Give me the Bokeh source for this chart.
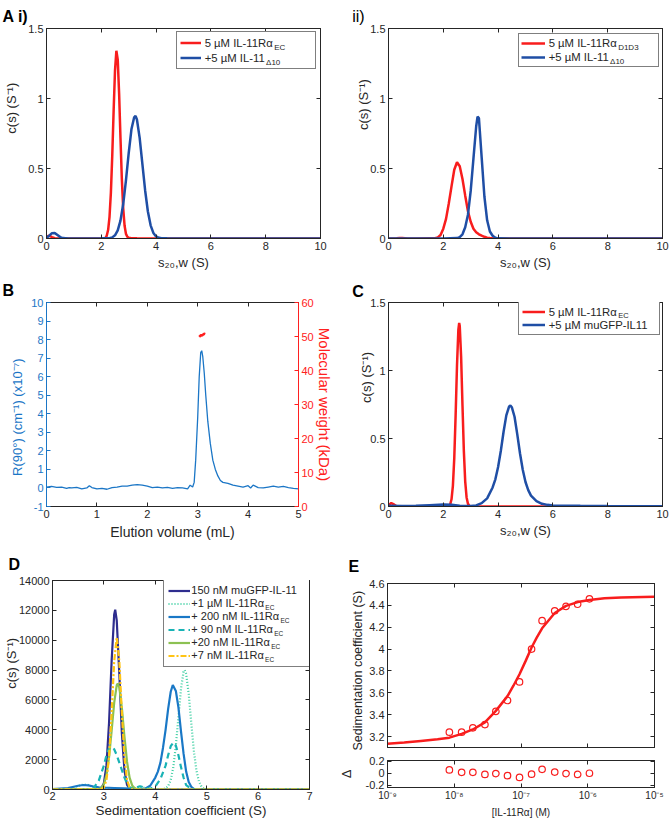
import math
from bokeh.plotting import figure
from bokeh.models import (Range1d, LinearAxis, LogAxis, FixedTicker, Legend,
                          LegendItem, CustomJSTickFormatter)
from bokeh.layouts import row, column
from bokeh.embed import file_html
from bokeh.resources import INLINE

# ---------------- data ----------------
# Panel A i)
ai_red_x = [0, 0.1, 0.2, 0.3, 0.5, 1.0, 1.5, 2.0, 2.15, 2.2, 2.25, 2.3, 2.35, 2.4, 2.45, 2.5, 2.55,
            2.6, 2.65, 2.7, 2.75, 2.8, 2.85, 2.9, 2.95, 3.0, 3.1, 3.3, 4.0, 5.0, 6.0, 8.0, 10.0]
ai_red_y = [0.015, 0.02, 0.01, 0.002, 0, 0, 0, 0, 0.003, 0.021, 0.062, 0.155, 0.328, 0.593, 0.913,
            1.199, 1.341, 1.278, 1.038, 0.718, 0.424, 0.213, 0.091, 0.033, 0.012, 0.005, 0.002,
            0.001, 0, 0, 0, 0, 0]
ai_blue_x = [0, 0.1, 0.2, 0.3, 0.4, 0.5, 0.6, 0.8, 1.5, 2.0, 2.3, 2.4, 2.5, 2.6, 2.7, 2.8, 2.9,
             3.0, 3.1, 3.2, 3.25, 3.3, 3.4, 3.5, 3.6, 3.7, 3.8, 3.9, 4.0, 4.1, 4.2, 4.4, 5.0, 6.0,
             8.0, 10.0]
ai_blue_y = [0.005, 0.02, 0.038, 0.04, 0.025, 0.01, 0.003, 0, 0, 0.001, 0.002, 0.008, 0.023,
             0.058, 0.128, 0.246, 0.415, 0.609, 0.78, 0.866, 0.876, 0.85, 0.719, 0.531, 0.343,
             0.193, 0.094, 0.04, 0.015, 0.005, 0.002, 0.001, 0, 0, 0, 0]

# Panel A ii)
aii_red_x = [0, 0.3, 0.4, 0.5, 0.7, 1.0, 1.5, 1.6, 1.7, 1.8, 1.9, 2.0, 2.1, 2.2, 2.3, 2.4, 2.5,
             2.6, 2.7, 2.8, 2.9, 3.0, 3.1, 3.2, 3.3, 3.4, 3.5, 3.6, 3.7, 3.8, 4.0, 5.0, 10.0]
aii_red_y = [0, 0.002, 0.004, 0.003, 0, 0, 0.001, 0.001, 0.002, 0.008, 0.025, 0.07, 0.14, 0.25,
             0.372, 0.491, 0.545, 0.516, 0.425, 0.306, 0.195, 0.12, 0.07, 0.045, 0.03, 0.02,
             0.012, 0.006, 0.003, 0.001, 0, 0, 0]
aii_blue_x = [0, 1.0, 2.0, 2.5, 2.6, 2.7, 2.8, 2.9, 3.0, 3.1, 3.2, 3.25, 3.3, 3.4, 3.5, 3.6, 3.7,
              3.8, 3.9, 4.0, 5.0, 10.0]
aii_blue_y = [0, 0, 0, 0.003, 0.01, 0.03, 0.08, 0.17, 0.34, 0.57, 0.80, 0.87, 0.86, 0.58, 0.30,
              0.13, 0.05, 0.02, 0.006, 0.001, 0, 0]

# Panel B
b_vol = [0.0, 0.1, 0.2, 0.3, 0.4, 0.45, 0.5, 0.6, 0.7, 0.8, 0.85, 0.9, 1.0, 1.1, 1.2, 1.3, 1.4,
         1.5, 1.6, 1.7, 1.8, 1.9, 2.0, 2.1, 2.2, 2.3, 2.4, 2.5, 2.6, 2.7, 2.8, 2.85, 2.9, 2.93,
         2.96, 3.0, 3.03, 3.06, 3.08, 3.1, 3.13, 3.16, 3.2, 3.25, 3.3, 3.35, 3.4, 3.45, 3.5, 3.6,
         3.7, 3.8, 3.9, 4.0, 4.05, 4.1, 4.2, 4.3, 4.4, 4.5, 4.6, 4.7, 4.8, 4.9, 5.0]
b_rayleigh = [0.05, 0.08, 0.03, 0.05, -0.02, 0.02, 0.0, 0.03, -0.05, 0.0, 0.12, 0.02, -0.05,
              -0.02, -0.07, 0.02, 0.05, 0.1, 0.1, 0.15, 0.18, 0.15, 0.1, 0.02, 0.05, 0.0, 0.03,
              -0.02, 0.02, 0.0, -0.05, 0.15, 0.05, 0.3, 1.5, 3.8, 6.0, 7.3, 7.4, 7.1, 6.2, 5.0,
              3.6, 2.4, 1.5, 1.0, 0.65, 0.4, 0.3, 0.25, 0.15, 0.1, 0.05, 0.12, 0.0, 0.15, 0.02,
              0.0, 0.05, 0.1, 0.05, 0.08, 0.02, -0.02, -0.05]
b_mw_vol = [3.03, 3.05, 3.07, 3.09, 3.11, 3.13, 3.15]
b_mw_kda = [49.9, 50.2, 50.4, 50.3, 50.6, 50.8, 50.7]

# Panel C
c_red_x = [0, 0.1, 0.2, 0.3, 0.5, 1.0, 2.0, 2.2, 2.25, 2.3, 2.35, 2.4, 2.45, 2.5, 2.55, 2.58, 2.6,
           2.65, 2.7, 2.75, 2.8, 2.85, 2.9, 2.95, 3.0, 3.2, 4.0, 6.0, 8.0, 10.0]
c_red_y = [0.01, 0.025, 0.015, 0.002, 0, 0, 0, 0.004, 0.015, 0.053, 0.152, 0.354, 0.672, 1.037,
           1.301, 1.35, 1.328, 1.103, 0.744, 0.409, 0.183, 0.067, 0.02, 0.005, 0.001, 0, 0, 0,
           0, 0]
c_blue_x = [0, 0.5, 1.0, 1.5, 2.0, 2.3, 2.6, 3.0, 3.2, 3.4, 3.6, 3.8, 3.9, 4.0, 4.1, 4.2, 4.3,
            4.4, 4.45, 4.5, 4.6, 4.7, 4.8, 4.9, 5.0, 5.1, 5.2, 5.4, 5.6, 5.8, 6.0, 7.0, 8.0, 10.0]
c_blue_y = [0.005, 0.003, 0.005, 0.01, 0.015, 0.012, 0.006, 0.004, 0.008, 0.025, 0.06, 0.14, 0.2,
            0.29, 0.41, 0.55, 0.67, 0.735, 0.742, 0.73, 0.66, 0.53, 0.39, 0.27, 0.18, 0.12,
            0.08, 0.04, 0.02, 0.012, 0.008, 0.005, 0.003, 0.001]

# Panel D
d_navy_x = [2.0, 2.9, 2.95, 3.0, 3.05, 3.1, 3.15, 3.2, 3.22, 3.25, 3.3, 3.35, 3.4, 3.45, 3.5,
            3.55, 4.0, 7.0]
d_navy_y = [0, 0, 78, 424, 1630, 4447, 8584, 11720, 12050, 11320, 7740, 3740, 1280, 310, 53, 0,
            0, 0]
d_dot_x = [2.0, 2.3, 2.4, 2.5, 2.6, 2.7, 2.8, 2.9, 3.0, 3.5, 3.6, 3.7, 3.8, 3.9, 4.1, 4.2, 4.25,
           4.3, 4.35, 4.4, 4.45, 4.5, 4.55, 4.57, 4.6, 4.65, 4.7, 4.75, 4.8, 4.85, 4.9, 4.95,
           5.0, 7.0]
d_dot_y = [0, 30, 100, 250, 330, 300, 150, 30, 0, 0, 50, 200, 100, 0, 0, 69, 228, 637, 1490,
           2940, 4850, 6750, 7890, 8000, 7750, 6400, 4450, 2600, 1270, 525, 182, 54, 0, 0]
d_blue_x = [2.0, 2.3, 2.5, 2.6, 2.7, 2.8, 2.9, 3.0, 3.2, 3.4, 3.6, 3.7, 3.75, 3.8, 3.9, 4.0,
            4.05, 4.1, 4.15, 4.2, 4.25, 4.3, 4.34, 4.4, 4.45, 4.5, 4.55, 4.6, 4.65, 4.7, 4.75,
            4.8, 7.0]
d_blue_y = [30, 100, 250, 300, 280, 200, 150, 120, 100, 80, 40, 10, 0, 60, 250, 800, 1200, 1800,
            2800, 4000, 5400, 6550, 7000, 6600, 5500, 3900, 2400, 1200, 500, 180, 50, 0, 0]
d_teal_x = [2.0, 2.7, 2.8, 2.9, 3.0, 3.05, 3.1, 3.15, 3.2, 3.25, 3.3, 3.35, 3.4, 3.45, 3.5, 3.6,
            3.7, 3.8, 3.9, 4.0, 4.1, 4.2, 4.25, 4.3, 4.35, 4.4, 4.45, 4.5, 4.55, 4.6, 4.7, 4.8,
            7.0]
d_teal_y = [0, 20, 100, 600, 1600, 2300, 2750, 2880, 2700, 2300, 1800, 1300, 800, 400, 150, 80,
            220, 120, 50, 200, 700, 1600, 2300, 2900, 3150, 2950, 2300, 1500, 800, 300, 50, 0, 0]
d_green_x = [2.0, 2.9, 2.95, 3.0, 3.05, 3.1, 3.15, 3.2, 3.25, 3.27, 3.3, 3.35, 3.4, 3.45, 3.5,
             3.55, 3.6, 3.65, 3.7, 4.0, 7.0]
d_green_y = [0, 20, 103, 350, 960, 2150, 3910, 5800, 6990, 7100, 6840, 5450, 3530, 1860, 795,
             277, 80, 20, 0, 0, 0]
d_yellow_x = [2.0, 2.95, 3.0, 3.05, 3.1, 3.15, 3.2, 3.25, 3.3, 3.35, 3.4, 3.45, 3.5, 3.55, 3.6,
              4.0, 7.0]
d_yellow_y = [0, 20, 134, 640, 2150, 5100, 8580, 10200, 8580, 5100, 2150, 640, 134, 20, 0, 0, 0]

# Panel E
e_conc = [8.45e-9, 1.29e-8, 1.9e-8, 2.88e-8, 4.2e-8, 6.28e-8, 9.5e-8, 1.44e-7, 2.07e-7, 3.2e-7,
          4.73e-7, 7.06e-7, 1.06e-6]
e_s = [3.24, 3.24, 3.28, 3.31, 3.43, 3.53, 3.70, 4.00, 4.26, 4.35, 4.39, 4.41, 4.46]
e_resid = [0.056, 0.015, 0.015, -0.02, -0.005, -0.04, -0.07, -0.015, 0.066, 0.02, -0.005, -0.02,
           0.0]
e_fit_conc = [1e-9, 1.78e-9, 3.16e-9, 5.62e-9, 8.45e-9, 1.29e-8, 1.9e-8, 2.88e-8, 4.2e-8,
              6.28e-8, 7.7e-8, 9.5e-8, 1.17e-7, 1.44e-7, 1.72e-7, 2.07e-7, 3.2e-7, 4.73e-7,
              7.06e-7, 1.06e-6, 1.78e-6, 3.16e-6, 1e-5]
e_fit_s = [3.135, 3.145, 3.16, 3.175, 3.19, 3.225, 3.265, 3.33, 3.435, 3.57, 3.665, 3.77, 3.89,
           4.015, 4.105, 4.19, 4.33, 4.395, 4.43, 4.45, 4.465, 4.472, 4.478]

# tick values
A_XTICKS = [0, 2, 4, 6, 8, 10]
A_YTICKS = [0, 0.5, 1, 1.5]
B_XTICKS = [0, 1, 2, 3, 4, 5]
B_YTICKS = [-1, 0, 1, 2, 3, 4, 5, 6, 7, 8, 9, 10]
B_MWTICKS = [0, 10, 20, 30, 40, 50, 60]
D_XTICKS = [2, 3, 4, 5, 6, 7]
D_YTICKS = [0, 2000, 4000, 6000, 8000, 10000, 12000, 14000]
E_XTICKS = [1e-9, 1e-8, 1e-7, 1e-6, 1e-5]
E_YTICKS = [3.2, 3.4, 3.6, 3.8, 4.0, 4.2, 4.4, 4.6]
R_YTICKS = [-0.2, 0, 0.2]

# ---------------- styling ----------------
FONT = "Liberation Sans"
INK = "#262626"
RED = "#f81d1d"
DBLUE = "#1f4ea5"
B_BLUE = "#1b76c6"
MW_RED = "#ff2020"
D_NAVY = "#2e2d8e"
D_MINT = "#3dcfa2"
D_BLUE = "#1a78c6"
D_TEAL = "#19b3b5"
D_GREEN = "#8cc152"
D_YELLOW = "#ffc414"
NBSP = "\u00a0"

ADV = {' ': 278, '(': 333, ')': 333, ',': 278, '-': 333, '+': 584, '.': 278, '[': 278, ']': 278,
       '0': 556, '1': 556, '2': 556, '3': 556, '4': 556, '5': 556, '6': 556, '7': 556, '8': 556,
       '9': 556, 'A': 667, 'C': 722, 'D': 722, 'E': 667, 'F': 611, 'G': 778, 'I': 278, 'L': 556,
       'M': 833, 'N': 722, 'P': 667, 'R': 722, 'S': 667, 'a': 556, 'c': 500, 'e': 556, 'i': 222,
       'l': 222, 'm': 833, 'n': 556, 'o': 556, 'r': 333, 's': 500, 't': 278, 'u': 556, 'v': 500,
       'w': 722, 'f': 278, '\u00b5': 576, '\u03b1': 578, '\u0394': 668}


def tw(s, size):
    return sum(ADV.get(c, 556) for c in s) * size / 1000.0


def num_fmt():
    return CustomJSTickFormatter(code="return String(Math.round(tick * 1000) / 1000);")


def log_fmt():
    return CustomJSTickFormatter(code="""
const e = Math.round(Math.log10(tick));
const m = {"-": "\u207b", "0": "\u2070", "1": "\u00b9", "2": "\u00b2", "3": "\u00b3",
           "4": "\u2074", "5": "\u2075", "6": "\u2076", "7": "\u2077", "8": "\u2078", "9": "\u2079"};
return "10" + String(e).split("").map(c => m[c]).join("");
""")


def fig(w, h, bl, br, bt, bb, xr, yr, xtype="linear"):
    p = figure(width=w, height=h, x_range=Range1d(*xr), y_range=Range1d(*yr),
               x_axis_type=xtype, output_backend="svg", toolbar_location=None, tools="",
               min_border_left=bl, min_border_right=br, min_border_top=bt, min_border_bottom=bb)
    p.grid.visible = False
    p.outline_line_color = INK
    p.background_fill_color = "white"
    p.border_fill_color = "white"
    return p


def panel_title(p, text, offset, standoff, size=16, bold=True):
    t = p.title
    t.text = text
    t.align = "left"
    t.vertical_align = "middle"
    t.offset = offset
    t.standoff = standoff
    t.text_font = FONT
    t.text_font_size = f"{size}px"
    t.text_font_style = "bold" if bold else "normal"
    t.text_color = "black"


def style(ax, ticks, color=INK, labels=True, size=11, log=False, standoff=3):
    ax.ticker = FixedTicker(ticks=ticks)
    ax.formatter = log_fmt() if log else num_fmt()
    ax.axis_line_color = color
    ax.major_tick_line_color = color
    ax.major_tick_in = 4
    ax.major_tick_out = 0
    ax.minor_tick_line_color = None
    ax.major_label_text_font = FONT
    ax.axis_label_text_font = FONT
    ax.axis_label_text_font_style = "normal"
    if labels:
        ax.major_label_text_color = color
        ax.major_label_text_font_size = f"{size}px"
        ax.major_label_standoff = standoff
    else:
        ax.major_label_text_color = None
        ax.major_label_text_font_size = "1px"
        ax.major_label_standoff = 0


def axlabel(ax, text, size, standoff, color=INK, lead=0, trail=0):
    # lead/trail: non-breaking spaces that shift a vertical label along its axis
    ax.axis_label = NBSP * lead + text + NBSP * trail
    ax.axis_label_text_font_size = f"{size}px"
    ax.axis_label_text_color = color
    ax.axis_label_standoff = standoff


def mirror(p, xticks, yticks, xlog=False, top=True, right=True):
    if top:
        ax = LogAxis() if xlog else LinearAxis()
        style(ax, xticks, labels=False)
        p.add_layout(ax, "above")
    if right:
        ax = LinearAxis()
        style(ax, yticks, labels=False)
        p.add_layout(ax, "right")


def ltext(p, d, text, x, ymid, size, color=INK):
    """Small in-frame text (a borderless legend entry): left edge x, vertical middle ymid,
    in pixels relative to the frame's bottom-left corner."""
    h = int(math.ceil(size * 1.6))
    lg = Legend(items=[LegendItem(label=text, renderers=[d])], location=(x, ymid - h / 2.0),
                padding=0, spacing=0, margin=0, glyph_width=0, glyph_height=h,
                label_height=h, label_width=0, label_standoff=0,
                label_text_font=FONT, label_text_font_size=f"{size}px",
                label_text_color=color, border_line_color=None, background_fill_alpha=0.0)
    p.add_layout(lg)


def legend(p, entries, left, bottom, pad, item_h, glyph_w, standoff, label_w, size, sub_size,
           sub_dy=3.5):
    d = p.line([], [], line_alpha=0)
    items = [LegendItem(label=m, renderers=[r]) for r, m, s in entries]
    lg = Legend(items=items, location=(left, bottom), padding=pad, spacing=0,
                glyph_width=glyph_w, glyph_height=item_h, label_height=item_h,
                label_width=label_w, label_standoff=standoff,
                label_text_font=FONT, label_text_font_size=f"{size}px", label_text_color=INK,
                border_line_color="black", border_line_width=1,
                background_fill_color="white", background_fill_alpha=1.0, margin=0)
    p.add_layout(lg)
    top = bottom + 2 * pad + len(entries) * item_h
    x0 = left + pad + glyph_w + standoff
    for i, (r, m, s) in enumerate(entries):
        if s:
            cy = top - pad - (i + 0.5) * item_h
            ltext(p, d, s, x0 + tw(m, size) + 1.5, cy - sub_dy, sub_size)


CS_LABEL = "c(s) (S\u207b\u00b9)"
S20W_LABEL = "s\u2082\u2080,w (S)"

# ---------------- Panel A i ----------------
pa1 = fig(335, 275, 46, 15, 28, 37, (0, 10), (0, 1.5))
panel_title(pa1, "A i)", -44, 6)
style(pa1.xaxis[0], A_XTICKS)
style(pa1.yaxis[0], A_YTICKS)
axlabel(pa1.yaxis[0], CS_LABEL, 13, 6, lead=14)
axlabel(pa1.xaxis[0], S20W_LABEL, 13, 2)
mirror(pa1, A_XTICKS, A_YTICKS)
r_a1r = pa1.line(ai_red_x, ai_red_y, line_color=RED, line_width=2.5)
r_a1b = pa1.line(ai_blue_x, ai_blue_y, line_color=DBLUE, line_width=2.5)
legend(pa1, [(r_a1r, "5 \u00b5M IL-11R\u03b1", "EC"),
             (r_a1b, "+5 \u00b5M IL-11", "\u039410")],
       129.7, 168.7, 3, 15, 21, 4, 107, 11.3, 8)

# ---------------- Panel A ii ----------------
pa2 = fig(334, 275, 53, 7, 28, 37, (0, 10), (0, 1.5))
panel_title(pa2, "ii)", -36.3, 6, bold=False)
style(pa2.xaxis[0], A_XTICKS)
style(pa2.yaxis[0], A_YTICKS)
axlabel(pa2.yaxis[0], CS_LABEL, 13, -4, lead=16)
axlabel(pa2.xaxis[0], S20W_LABEL, 13, 2)
mirror(pa2, A_XTICKS, A_YTICKS)
r_a2r = pa2.line(aii_red_x, aii_red_y, line_color=RED, line_width=2.5)
r_a2b = pa2.line(aii_blue_x, aii_blue_y, line_color=DBLUE, line_width=2.5)
legend(pa2, [(r_a2r, "5 \u00b5M IL-11R\u03b1", "D1D3"),
             (r_a2b, "+5 \u00b5M IL-11", "\u039410")],
       129.7, 171, 2, 14, 24, 4, 107, 11.3, 8)

# ---------------- Panel B ----------------
pb = fig(335, 270, 46, 33, 27, 39, (0, 5), (-1, 10))
panel_title(pb, "B", -44, 5)
pb.extra_y_ranges = {"mw": Range1d(0, 60)}
style(pb.xaxis[0], B_XTICKS)
style(pb.yaxis[0], B_YTICKS, color=B_BLUE)
axlabel(pb.yaxis[0], "R(90\u00b0) (cm\u207b\u00b9) (x10\u207b\u2077)", 13, 3, color=B_BLUE,
        trail=7)
axlabel(pb.xaxis[0], "Elution volume (mL)", 14, 3)
mw_axis = LinearAxis(y_range_name="mw")
style(mw_axis, B_MWTICKS, color=MW_RED)
axlabel(mw_axis, "Molecular weight (kDa)", 15, -1, color=MW_RED)
pb.add_layout(mw_axis, "right")
mirror(pb, B_XTICKS, None, right=False)
pb.line(b_vol, b_rayleigh, line_color=B_BLUE, line_width=1.3)
pb.line(b_mw_vol, b_mw_kda, line_color=MW_RED, line_width=2.5, y_range_name="mw")

# ---------------- Panel C ----------------
pc = fig(334, 270, 53, 7, 26, 35, (0, 10), (0, 1.5))
panel_title(pc, "C", -36.3, 4)
style(pc.xaxis[0], A_XTICKS)
style(pc.yaxis[0], A_YTICKS)
axlabel(pc.yaxis[0], CS_LABEL, 13, -7, lead=15)
axlabel(pc.xaxis[0], S20W_LABEL, 13, 2)
mirror(pc, A_XTICKS, A_YTICKS)
r_cr = pc.line(c_red_x, c_red_y, line_color=RED, line_width=2.5)
r_cb = pc.line(c_blue_x, c_blue_y, line_color=DBLUE, line_width=2.5)
legend(pc, [(r_cr, "5 \u00b5M IL-11R\u03b1", "EC"),
            (r_cb, "+5 \u00b5M muGFP-IL11", None)],
       129.7, 170.7, 3, 13, 23, 4, 107, 11.3, 7.5, sub_dy=2.5)

# ---------------- Panel D ----------------
pd = fig(335, 275, 46, 26, 35, 31, (2, 7), (0, 14000))
panel_title(pd, "D", -44, 13)
style(pd.xaxis[0], D_XTICKS, standoff=2)
style(pd.yaxis[0], D_YTICKS)
axlabel(pd.yaxis[0], CS_LABEL, 13, -3, lead=12)
axlabel(pd.xaxis[0], "Sedimentation coefficient (S)", 13.4, 0)
mirror(pd, D_XTICKS, D_YTICKS)
r_d1 = pd.line(d_navy_x, d_navy_y, line_color=D_NAVY, line_width=2.2)
r_d2 = pd.line(d_dot_x, d_dot_y, line_color=D_MINT, line_width=2.2, line_dash="1 2")
r_d3 = pd.line(d_blue_x, d_blue_y, line_color=D_BLUE, line_width=2.2)
r_d4 = pd.line(d_teal_x, d_teal_y, line_color=D_TEAL, line_width=2.2, line_dash="6 4")
r_d5 = pd.line(d_green_x, d_green_y, line_color=D_GREEN, line_width=2.2)
r_d6 = pd.line(d_yellow_x, d_yellow_y, line_color=D_YELLOW, line_width=2.2, line_dash="6 2 2 2")
legend(pd, [(r_d1, "150 nM muGFP-IL-11", None),
            (r_d2, "+1 \u00b5M IL-11R\u03b1", "EC"),
            (r_d3, "+ 200 nM IL-11R\u03b1", "EC"),
            (r_d4, "+ 90 nM IL-11R\u03b1", "EC"),
            (r_d5, "+20 nM IL-11R\u03b1", "EC"),
            (r_d6, "+7 nM IL-11R\u03b1", "EC")],
       111.3, 122.3, 4, 13, 22, 1, 116, 11, 6.5, sub_dy=3)

# ---------------- Panel E ----------------
pe = fig(334, 210, 52, 15, 38, 8, (1e-9, 1e-5), (3.1, 4.6), xtype="log")
panel_title(pe, "E", -39, 16)
style(pe.xaxis[0], E_XTICKS, labels=False, log=True)
style(pe.yaxis[0], E_YTICKS)
axlabel(pe.yaxis[0], "Sedimentation coefficient (S)", 12.5, 1, trail=3)
mirror(pe, E_XTICKS, E_YTICKS, xlog=True)
pe.line(e_fit_conc, e_fit_s, line_color=RED, line_width=2.5)
pe.scatter(e_conc, e_s, marker="circle", size=6.5, line_color=RED, fill_color=None,
           line_width=1.2)

pr = fig(334, 65, 52, 15, 5, 30, (1e-9, 1e-5), (-0.24, 0.215), xtype="log")
style(pr.xaxis[0], E_XTICKS, log=True, size=10, standoff=2)
style(pr.yaxis[0], R_YTICKS)
axlabel(pr.yaxis[0], "\u0394", 13, 9)
axlabel(pr.xaxis[0], "[IL-11R\u03b1] (M)", 10, 3)
mirror(pr, E_XTICKS, R_YTICKS, xlog=True)
pr.scatter(e_conc, e_resid, marker="circle", size=6.5, line_color=RED, fill_color=None,
           line_width=1.2)

layout = column(row(pa1, pa2), row(pb, pc), row(pd, column(pe, pr)))

with open("out.html", "w") as f:
    f.write(file_html(layout, INLINE, title="IL-11 figure"))
